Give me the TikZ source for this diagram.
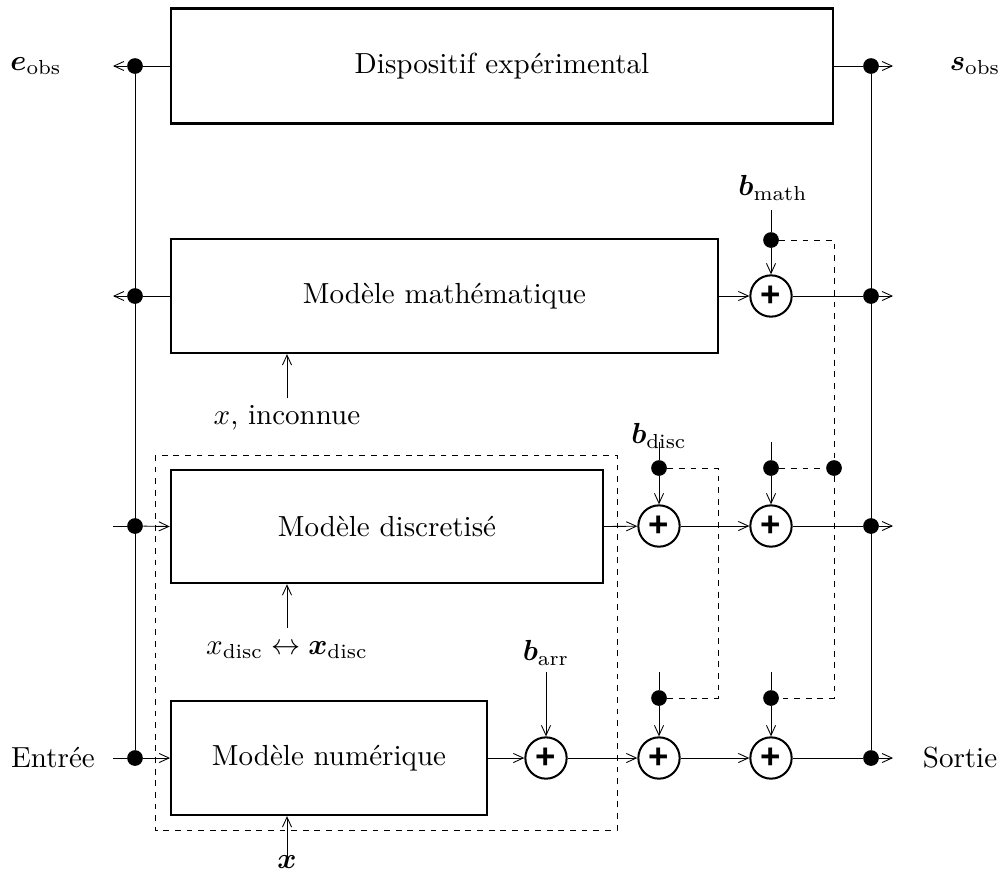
\documentclass[tikz,border=0pt]{standalone}
\usepackage{amsmath,bm}
\usepackage{fontspec}
\newfontfamily\sommefont{Liberation Sans}
\usetikzlibrary{arrows.meta}

\begin{document}
\begin{tikzpicture}[x=0.0121cm,y=-0.0121cm,
  bloc/.style = {rectangle,draw,line width=0.75pt,inner sep=0pt},
  somme/.style = {circle,draw,line width=0.7pt,inner sep=0pt,minimum size=0.5cm,font=\sommefont\bfseries\large},
  point/.style = {circle,fill,inner sep=0pt,minimum size=1.9mm},
  fil/.style = {line width=0.3pt},
  pointille/.style = {line width=0.3pt,dash pattern=on 2pt off 2pt},
  >={Straight Barb[length=1.2mm,width=1.1mm]}]
\useasboundingbox (0,0) rectangle (1001,890);
% blocs
\node[bloc,minimum width=8.01cm,minimum height=1.39cm] (disp) at (502,66) {Dispositif expérimental};
\node[bloc,minimum width=6.62cm,minimum height=1.38cm] (math) at (444.5,296) {Modèle mathématique};
\node[bloc,minimum width=5.23cm,minimum height=1.37cm] (disc) at (387,526.5) {Modèle discretisé};
\node[bloc,minimum width=3.82cm,minimum height=1.38cm] (num) at (329,758) {Modèle numérique};
\draw[pointille] (155,455) rectangle (617,830);
% bus gauche et droite
\foreach \n/\y in {0/66,1/296,2/526,3/758} {
    \node[point] (L\n) at (135,\y) {};
    \node[point] (R\n) at (871,\y) {};
    \coordinate (oL\n) at (113,\y);
    \coordinate (oR\n) at (893,\y);
}
% sommateurs
\foreach \n/\x/\y in {sm/771/296, sd1/659/526, sd2/771/526, sa/546/758, sn2/659/758, sn3/771/758}
    \node[somme] (\n) at (\x,\y) {+};
% bruits
\foreach \n/\x/\y in {pm/771/240, pd1/659/468, pd2/771/468, pd3/834/468, pn2/659/698, pn3/771/698}
    \node[point] (\n) at (\x,\y) {};
\foreach \n/\x/\y in {tm/771/210, td1/659/442, td2/771/442, ta/546/672, tn2/659/672, tn3/771/672, kd1/718/468, kd2/718/698, ixi/287/398, ixd/287/628, ix/287/858}
    \coordinate (\n) at (\x,\y);
% textes
\node (lem) at (36,66) {$\bm{e}_{\mathrm{obs}}$};
\node (lso) at (975,66) {$\bm{s}_{\mathrm{obs}}$};
\node (lbm) at (773,188) {$\bm{b}_{\mathrm{math}}$};
\node (lbd) at (659,436) {$\bm{b}_{\mathrm{disc}}$};
\node (lba) at (546,653) {$\bm{b}_{\mathrm{arr}}$};
\node (lent) at (53,758) {Entrée};
\node (lsor) at (960,758) {Sortie};
\node (lxi) at (287,418) {$x$, inconnue};
\node (lxd) at (287,650) {$x_{\mathrm{disc}} \leftrightarrow \bm{x}_{\mathrm{disc}}$};
\node (lx) at (287,862) {$\bm{x}$};
% liaisons
\draw[fil] (L0) -- (L3);
\draw[fil] (R0) -- (R3);
\draw[fil] (disp.west) -- (L0);  \draw[fil,->] (L0) -- (oL0);
\draw[fil] (math.west) -- (L1);  \draw[fil,->] (L1) -- (oL1);
\draw[fil] (oL2) -- (L2);        \draw[fil,->] (L2) -- (disc.west);
\draw[fil] (oL3) -- (L3);        \draw[fil,->] (L3) -- (num.west);
\draw[fil] (disp.east) -- (R0);  \draw[fil,->] (R0) -- (oR0);
\draw[fil,->] (math.east) -- (sm);
\draw[fil] (sm) -- (R1);         \draw[fil,->] (R1) -- (oR1);
\draw[fil,->] (disc.east) -- (sd1);
\draw[fil,->] (sd1) -- (sd2);
\draw[fil] (sd2) -- (R2);        \draw[fil,->] (R2) -- (oR2);
\draw[fil,->] (num.east) -- (sa);
\draw[fil,->] (sa) -- (sn2);
\draw[fil,->] (sn2) -- (sn3);
\draw[fil] (sn3) -- (R3);        \draw[fil,->] (R3) -- (oR3);
% entrees de bruit
\draw[fil] (tm) -- (pm);   \draw[fil,->] (pm) -- (sm);
\draw[fil] (td1) -- (pd1); \draw[fil,->] (pd1) -- (sd1);
\draw[fil] (td2) -- (pd2); \draw[fil,->] (pd2) -- (sd2);
\draw[fil,->] (ta) -- (sa);
\draw[fil] (tn2) -- (pn2); \draw[fil,->] (pn2) -- (sn2);
\draw[fil] (tn3) -- (pn3); \draw[fil,->] (pn3) -- (sn3);
\draw[pointille] (pm) -| (pd3) |- (pn3);
\draw[pointille] (pd2) -- (pd3);
\draw[pointille] (pd1) -- (kd1) -- (kd2) -- (pn2);
% parametres
\draw[fil,->] (ixi) -- (ixi |- math.south);
\draw[fil,->] (ixd) -- (ixd |- disc.south);
\draw[fil,->] (ix) -- (ix |- num.south);
\end{tikzpicture}
\end{document}
